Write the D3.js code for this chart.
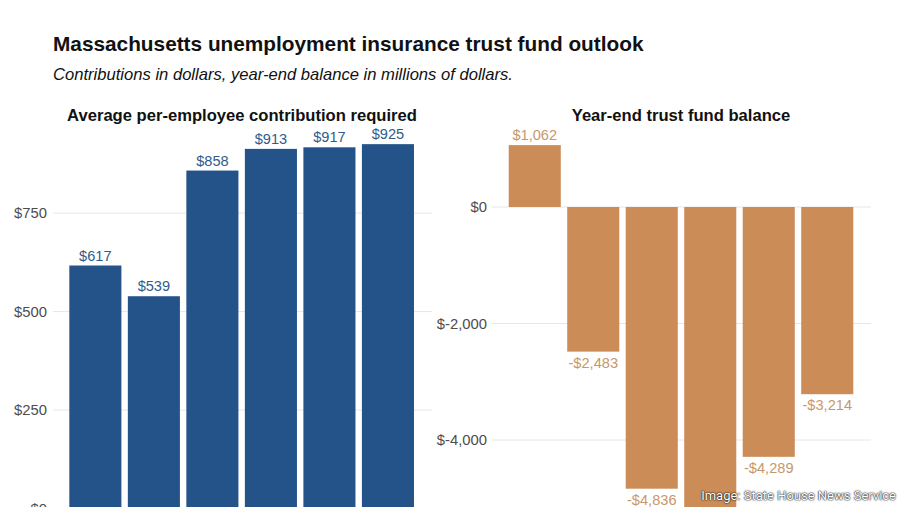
<!DOCTYPE html>
<html>
<head>
<meta charset="utf-8">
<script src="https://cdn.jsdelivr.net/npm/d3@7"></script>
<style>
  html, body { margin: 0; padding: 0; background: #fff; overflow: hidden; }
  svg { display: block; font-family: "Liberation Sans", Arial, sans-serif; }
</style>
</head>
<body>
<svg id="chart" width="900" height="507"></svg>
<script>
// ---- data ----
const years = ["2021", "2022", "2023", "2024", "2025", "2026"];
const contribution = [617, 539, 858, 913, 917, 925];
const balance = [1062, -2483, -4836, -5300, -4289, -3214];
const leftTicks = [0, 250, 500, 750];
const rightTicks = [-4000, -2000, 0];

const title = "Massachusetts unemployment insurance trust fund outlook";
const subtitle = "Contributions in dollars, year-end balance in millions of dollars.";
const leftTitle = "Average per-employee contribution required";
const rightTitle = "Year-end trust fund balance";
const credit = "Image: State House News Service";

const blue = "#24538a", blueLabel = "#2f5b8c";
const tan = "#cb8c58", tanLabel = "#c7976c";

const svg = d3.select("#chart");

svg.append("text").attr("x", 53).attr("y", 51)
  .attr("font-size", 20.8).attr("font-weight", "bold").attr("fill", "#111")
  .text(title);
svg.append("text").attr("x", 53).attr("y", 80)
  .attr("font-size", 16.6).attr("font-style", "italic").attr("fill", "#111")
  .text(subtitle);

const comma = d3.format(",");
function fmtMoney(v) {
  return (v < 0 ? "-$" : "$") + comma(Math.abs(v));
}
function fmtTick(v) {
  return "$" + (v < 0 ? "-" : "") + comma(Math.abs(v));
}

// ---- left panel ----
const xL = d3.scaleBand().domain(years).range([66.1, 417.2]).paddingInner(0.11).paddingOuter(0.055);
const yL = d3.scaleLinear().domain([0, 250]).range([508.6, 410.1]);
const gL = svg.append("g");
gL.append("text").attr("x", 242).attr("y", 121).attr("text-anchor", "middle")
  .attr("font-size", 16.6).attr("font-weight", "bold").attr("fill", "#111").text(leftTitle);
gL.selectAll("line.grid").data(leftTicks).join("line")
  .attr("x1", 53).attr("x2", 432).attr("y1", d => yL(d)).attr("y2", d => yL(d))
  .attr("stroke", "#e6e6e6").attr("stroke-width", 1);
gL.selectAll("text.tick").data(leftTicks).join("text")
  .attr("x", 47).attr("y", d => yL(d)).attr("dy", "0.35em").attr("text-anchor", "end")
  .attr("font-size", 14.8).attr("fill", "#4d4d4d").text(d => fmtTick(d));
gL.selectAll("rect").data(years).join("rect")
  .attr("x", d => xL(d)).attr("width", xL.bandwidth())
  .attr("y", (d, i) => yL(contribution[i])).attr("height", (d, i) => yL(0) - yL(contribution[i]))
  .attr("fill", blue);
gL.selectAll("text.val").data(years).join("text")
  .attr("x", d => xL(d) + xL.bandwidth() / 2).attr("y", (d, i) => yL(contribution[i]) - 5)
  .attr("text-anchor", "middle").attr("font-size", 14.6).attr("fill", blueLabel)
  .text((d, i) => fmtMoney(contribution[i]));

// ---- right panel ----
const xR = d3.scaleBand().domain(years).range([505.5, 856.5]).paddingInner(0.11).paddingOuter(0.055);
const yR = d3.scaleLinear().domain([0, -2000]).range([207, 323.5]);
const gR = svg.append("g");
gR.append("text").attr("x", 681).attr("y", 121).attr("text-anchor", "middle")
  .attr("font-size", 16.6).attr("font-weight", "bold").attr("fill", "#111").text(rightTitle);
gR.selectAll("line.grid").data(rightTicks).join("line")
  .attr("x1", 492).attr("x2", 871).attr("y1", d => yR(d)).attr("y2", d => yR(d))
  .attr("stroke", "#e6e6e6").attr("stroke-width", 1);
gR.selectAll("text.tick").data(rightTicks).join("text")
  .attr("x", 487).attr("y", d => yR(d)).attr("dy", "0.35em").attr("text-anchor", "end")
  .attr("font-size", 14.8).attr("fill", "#4d4d4d").text(d => fmtTick(d));
gR.selectAll("rect").data(years).join("rect")
  .attr("x", d => xR(d)).attr("width", xR.bandwidth())
  .attr("y", (d, i) => Math.min(yR(0), yR(balance[i])))
  .attr("height", (d, i) => Math.abs(yR(balance[i]) - yR(0)))
  .attr("fill", tan);
gR.selectAll("text.val").data(years).join("text")
  .attr("x", d => xR(d) + xR.bandwidth() / 2)
  .attr("y", (d, i) => balance[i] >= 0 ? yR(balance[i]) - 5 : yR(balance[i]) + 16)
  .attr("text-anchor", "middle").attr("font-size", 14.6).attr("fill", tanLabel)
  .text((d, i) => fmtMoney(balance[i]));

// ---- credit ----
svg.append("text").attr("x", 896).attr("y", 500).attr("text-anchor", "end")
  .attr("font-family", "Roboto, sans-serif").attr("font-size", 13).attr("fill", "#fff")
  .style("text-shadow", "0 0 2px #000, 0 0 1px #000")
  .text(credit);
</script>
</body>
</html>
